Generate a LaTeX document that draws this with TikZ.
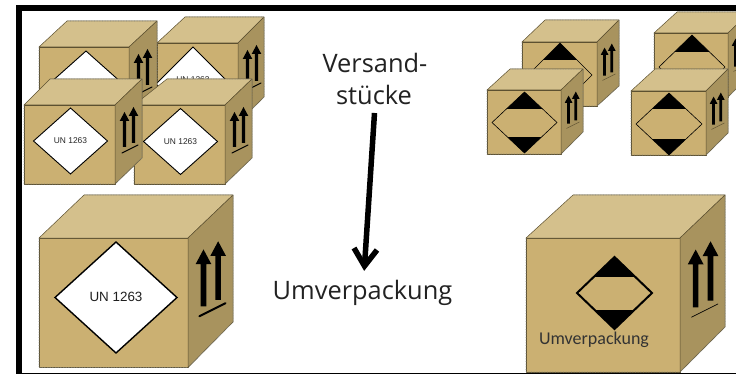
\documentclass[tikz,border=0pt]{standalone}
\usepackage{fontspec}
\setmainfont{Open Sans}
\newfontfamily\lib{Liberation Sans}
\newfontfamily\car{Carlito}
\definecolor{cfront}{HTML}{CBB072}
\definecolor{ctop}{HTML}{D4C08C}
\definecolor{cside}{HTML}{A8935E}
\definecolor{cedge}{HTML}{5C5030}
\definecolor{cdot}{HTML}{8A8A80}
\definecolor{ctext}{HTML}{222222}
\tikzset{
  face/.style={draw=cedge,line width=.5pt,line join=round},
  outline/.style={draw=cdot,line width=.6pt,densely dotted},
  bigtext/.style={font=\fontsize{25.4}{25.4}\selectfont,text=ctext,inner sep=0pt},
  unlabel/.style={font=\lib\fontsize{8.4}{8.4}\selectfont,text=black!85,inner sep=0pt},
}
% x0 y0 x1 y1 topleftx toprightx backy backbottomy
\newcommand{\Cube}[8]{
  \fill[face,fill=cfront] (#1,#2) rectangle (#3,#4);
  \fill[face,fill=ctop] (#1,#2) -- (#5,#7) -- (#6,#7) -- (#3,#2) -- cycle;
  \fill[face,fill=cside] (#3,#2) -- (#6,#7) -- (#6,#8) -- (#3,#4) -- cycle;
  \draw[outline] (#1,#2) -- (#1,#4) -- (#3,#4) -- (#6,#8) -- (#6,#7) -- (#5,#7);
}
% corner x y, scale, tick colour, tick width
\newcommand{\Arrows}[6]{
  \begin{scope}[shift={(#1,#2)},scale=#3]
    \fill[#6] (7.8,42) -- (7.8,16) -- (4.7,16) -- (9.5,7) -- (14.3,16) -- (11.2,16) -- (11.2,42) -- cycle;
    \fill[#6] (16.8,38) -- (16.8,11) -- (13.7,11) -- (18.5,2) -- (23.3,11) -- (20.2,11) -- (20.2,38) -- cycle;
    \draw[#4,line width=#5,line cap=round] (7,48) -- (23,40);
  \end{scope}
}
% cx cy hw hh
\newcommand{\WhiteDiamond}[5]{
  \draw[black,fill=white,line width=#5,line join=miter] (#1-#3,#2) -- (#1,#2-#4) -- (#1+#3,#2) -- (#1,#2+#4) -- cycle;
}
% cx cy hw hh ytop ybot width
\newcommand{\Hazard}[7]{
  \begin{scope}
    \clip (#1-#3,#2) -- (#1,#2-#4) -- (#1+#3,#2) -- (#1,#2+#4) -- cycle;
    \fill[black] (#1-#3,#2-#4) rectangle (#1+#3,#5);
    \fill[black] (#1-#3,#6) rectangle (#1+#3,#2+#4);
  \end{scope}
  \draw[black,line width=#7,line join=miter] (#1-#3,#2) -- (#1,#2-#4) -- (#1+#3,#2) -- (#1,#2+#4) -- cycle;
}
\begin{document}
\begin{tikzpicture}[x=1pt,y=-1pt]
\useasboundingbox (0,0) rectangle (736,374);
\fill[white] (0,0) rectangle (736,374);
% small UN boxes
\Cube{157}{43}{238}{123}{185}{264}{17}{97}
\WhiteDiamond{193}{84}{37}{37}{.9pt}
\node[unlabel] (unb) at (193,79.5) {UN 1263};
\Arrows{238}{43}{1}{black}{1.1pt}{black}
\Cube{39}{47}{129}{127}{67}{157}{21}{101}
\WhiteDiamond{86}{84}{37}{33}{.9pt}
\Arrows{129}{47}{1}{black}{1.1pt}{black}
\Cube{134}{105}{225}{184}{167}{252}{79}{158}
\WhiteDiamond{180.5}{141.5}{37}{33}{.9pt}
\node[unlabel] (und) at (180.5,141.5) {UN 1263};
\Arrows{225}{105}{1}{black}{1.1pt}{black}
\Cube{24}{105}{115}{184}{50}{142}{79}{158}
\WhiteDiamond{70.5}{141}{37}{33}{.9pt}
\node[unlabel] (unc) at (70.5,141) {UN 1263};
\Arrows{115}{105}{1}{black}{1.1pt}{black}
% large UN box
\Cube{39}{238}{188}{367.5}{84}{233}{195}{322}
\WhiteDiamond{116}{297.5}{61}{55.5}{1.4pt}
\node[font=\lib\fontsize{13.4}{13.4}\selectfont,text=black!88,inner sep=0pt] (unl) at (116,297) {UN 1263};
\Arrows{188}{238}{1.63}{black}{2pt}{black}
% small limited quantity boxes
\Cube{522}{42}{597}{106}{545}{619}{20}{86}
\Hazard{560}{75}{32}{32}{60}{92}{.6pt}
\Arrows{597}{42}{.8}{cedge}{.4pt}{black}
\Cube{654}{33}{728}{97}{677}{750}{12}{75}
\Hazard{692}{67}{33}{32}{52}{84}{.6pt}
\Arrows{728}{33}{.8}{cedge}{.4pt}{black}
\Cube{487}{90}{561}{154}{510}{583}{69}{132}
\Hazard{524.5}{122.5}{32.5}{30.5}{109}{137}{.6pt}
\Arrows{561}{90}{.8}{cedge}{.4pt}{black}
\Cube{631}{91}{706}{155}{655}{728}{69}{133}
\Hazard{669}{124}{33}{31}{109}{139}{.6pt}
\Arrows{706}{91}{.8}{cedge}{.4pt}{black}
% large limited quantity box
\Cube{526}{238}{680}{372}{573}{725}{195}{327}
\Hazard{614.5}{293}{37.5}{36}{277}{310}{2pt}
\Arrows{680}{238}{1.65}{black}{.7pt}{black}
\node[font=\car\fontsize{18}{18}\selectfont,text=black!80,inner sep=0pt] (umin) at (594,340) {Umverpackung};
% frame
\fill[black] (16,5) rectangle (736,11);
\fill[black] (16,5) rectangle (22,374);
\draw[black,line width=1pt] (16,373) -- (736,373);
% centre labels and arrow
\node[bigtext] (ver) at (375,63) {Versand-};
\node[bigtext] (stu) at (374,95) {stücke};
\node[bigtext] (umv) at (362.5,293) {Umverpackung};
\coordinate (tail) at (374.5,113);
\coordinate (tip) at (364.5,266);
\draw[black,line width=5.5pt] (tail) -- (tip);
\draw[black,line width=5.5pt,line join=miter] (354,248) -- (tip) -- (377,250);
\end{tikzpicture}
\end{document}
